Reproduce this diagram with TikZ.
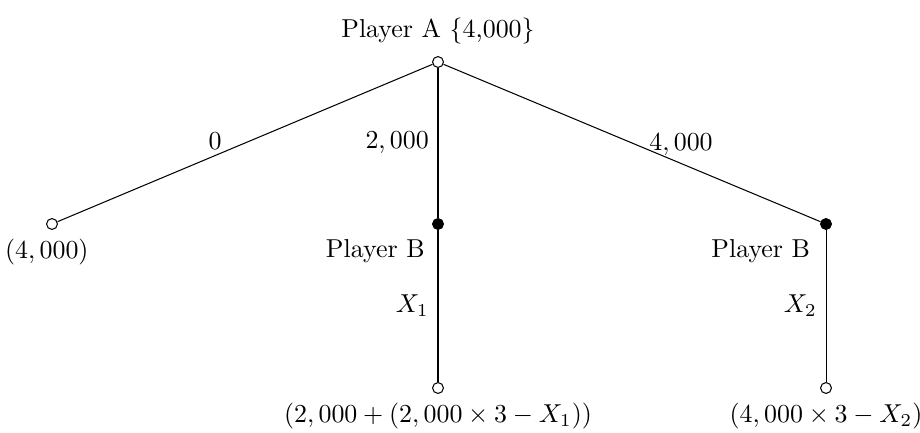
\documentclass[tikz,border=0pt]{standalone}
\usepackage{amsmath}
\usepackage{tikz}
\usetikzlibrary{positioning}

\tikzset{
  chance/.style={shape=circle,draw,fill=white,inner sep=0pt,minimum size=4.2pt},
  decide/.style={shape=circle,draw,fill=black,inner sep=0pt,minimum size=4.2pt}
}

\begin{document}
\begin{tikzpicture}[x=0.386pt,y=-0.386pt]
\useasboundingbox (0,0) rectangle (920,432);
% players and outcomes
\node[chance] (A) at (438,62) {};
\node[chance] (o0) at (52,224) {};
\node[decide] (B1) at (438,224) {};
\node[decide] (B2) at (826,224) {};
\node[chance] (o1) at (438,388) {};
\node[chance] (o2) at (826,388) {};
% branches
\draw (A)--(o0) node[pos=0.58,above,inner sep=2pt]{$0$};
\draw (A)--(B1) node[midway,left]{$2,000$};
\draw (A)--(B2) node[pos=0.63,above,inner sep=3pt]{$4,000$};
\draw (B1)--(o1) node[pos=0.5,left]{$X_1$};
\draw (B2)--(o2) node[pos=0.5,left]{$X_2$};
% texts
\node[above=1pt of A] (tA) {Player A \{4,000\}};
\node[below=0pt of o0,xshift=-2pt] (t0) {$(4,000)$};
\node[below left=1pt and 0pt of B1] (tB1) {Player B};
\node[below left=1pt and 1pt of B2] (tB2) {Player B};
\node[below=0pt of o1] (t1) {$(2,000+(2,000\times 3-X_1))$};
\node[below=0pt of o2] (t2) {$(4,000\times 3-X_2)$};
\end{tikzpicture}
\end{document}
